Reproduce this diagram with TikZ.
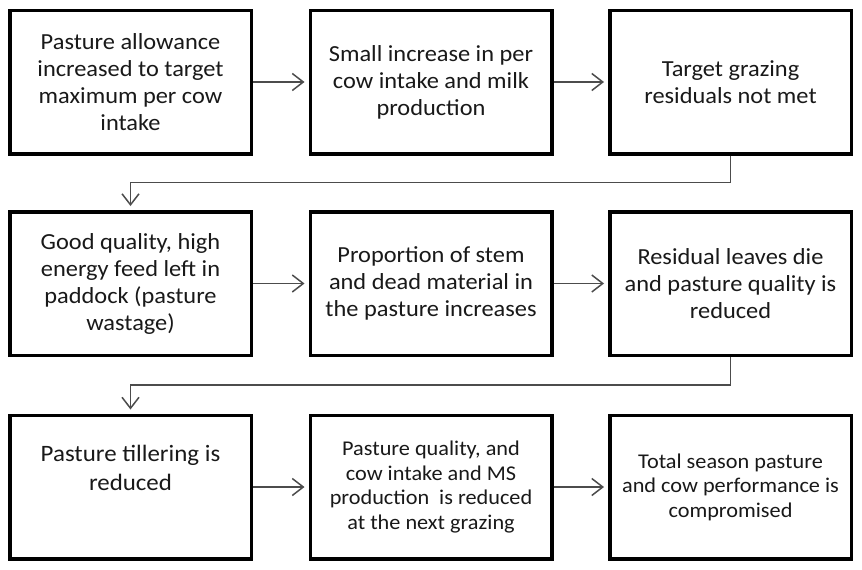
\documentclass[tikz,border=0pt]{standalone}
\usepackage{fontspec}
\setmainfont{Carlito}[FakeStretch=1.06]
\usetikzlibrary{arrows.meta}
\tikzset{
  box/.style={draw=black, line width=3.5pt, fill=white, align=center,
    minimum width=241.5pt, minimum height=143.5pt, inner sep=4pt,
    font=\fontsize{23}{27}\selectfont, text=black!90},
  conn/.style={draw=black!70, line width=1.5pt, shorten >=4pt,
    -{Straight Barb[length=11pt,width=17pt]}}
}
\begin{document}
\begin{tikzpicture}[x=1pt,y=-1pt]
  \useasboundingbox[fill=white] (0,0) rectangle (862,570);
  % first row
  \node[box] (allow) at (130.5,82) {Pasture allowance\\increased to target\\maximum per cow\\intake};
  \node[box] (intake) at (431,82) {Small increase in per\\cow intake and milk\\production};
  \node[box] (resid) at (730.5,82) {Target grazing\\residuals not met};
  % second row
  \node[box] (waste) at (130.5,283.5) {Good quality, high\\energy feed left in\\paddock (pasture\\wastage)};
  \node[box] (stem) at (431,283.5) {Proportion of stem\\and dead material in\\the pasture increases};
  \node[box] (leaves) at (730.5,283.5) {Residual leaves die\\and pasture quality is\\reduced};
  % third row
  \node[box, font=\fontsize{23.5}{29}\selectfont] (tiller) at (130.5,487) {Pasture tillering is\\reduced\\[10pt]\mbox{}};
  \node[box, font=\fontsize{21}{24.5}\selectfont] (quality) at (431,487) {Pasture quality, and\\cow intake and MS\\production\ \ is reduced\\at the next grazing};
  \node[box, font=\fontsize{21}{24.5}\selectfont] (season) at (730.5,487) {Total season pasture\\and cow performance is\\compromised};

  \draw[conn] (allow) -- (intake);
  \draw[conn] (intake) -- (resid);
  \draw[conn] (resid.south) -- ++(0,27) -| (waste.north);
  \draw[conn] (waste) -- (stem);
  \draw[conn] (stem) -- (leaves);
  \draw[conn] (leaves.south) -- ++(0,28) -| (tiller.north);
  \draw[conn] (tiller) -- (quality);
  \draw[conn] (quality) -- (season);
\end{tikzpicture}
\end{document}
